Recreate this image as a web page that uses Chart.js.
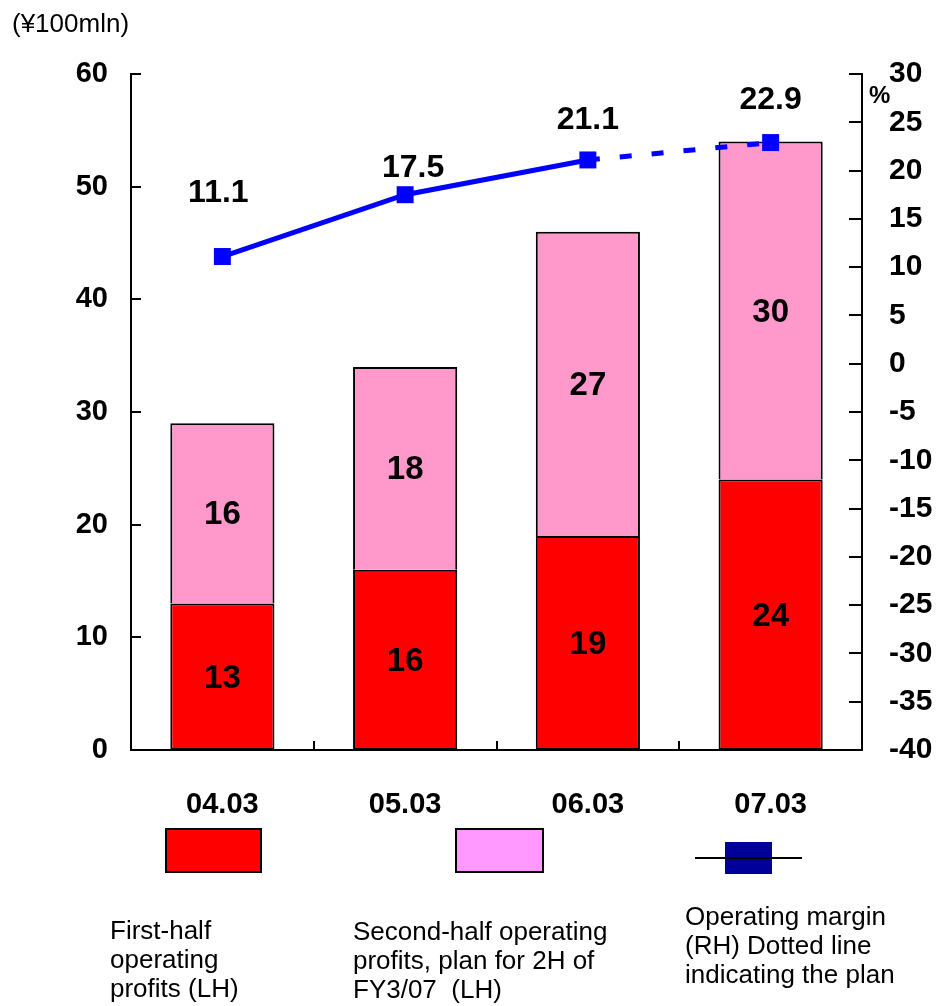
<!DOCTYPE html>
<html>
<head>
<meta charset="utf-8">
<script src="https://cdn.jsdelivr.net/npm/chart.js@4.4.1/dist/chart.umd.min.js"></script>
<style>
  body { margin: 0; background: #fff; font-family: "Liberation Sans", Arial, sans-serif; }
  #wrap { position: relative; width: 941px; height: 1006px; overflow: hidden; }
  .key { position: absolute; box-sizing: border-box; }
  .txt { position: absolute; font-size: 26px; line-height: 29px; color: #000; white-space: nowrap; }
</style>
</head>
<body>
<div id="wrap">
  <canvas id="chart" width="941" height="1006"></canvas>

  <div class="key" style="left:165px; top:828px; width:97px; height:45px; background:#ff0000; border:2px solid #000;"></div>
  <div class="key" style="left:455px; top:828px; width:89px; height:45px; background:#ff99ff; border:2px solid #000;"></div>
  <div class="key" style="left:725px; top:842px; width:47px; height:32px; background:#000099;"></div>
  <div class="key" style="left:695px; top:857px; width:107px; height:2px; background:#000;"></div>

  <div class="txt" style="left:110px; top:916px;">First-half<br>operating<br>profits (LH)</div>
  <div class="txt" style="left:353px; top:917px;">Second-half operating<br>profits, plan for 2H of<br>FY3/07&nbsp; (LH)</div>
  <div class="txt" style="left:685px; top:902px;">Operating margin<br>(RH) Dotted line<br>indicating the plan</div>
</div>

<script>
// fiscal years
const years = ["04.03", "05.03", "06.03", "07.03"];
// operating profits, ¥100mln
const firstHalf = [13, 16, 19, 24];
const secondHalf = [16, 18, 27, 30];
// operating margin, %
const margin = [11.1, 17.5, 21.1, 22.9];

// nudges for the margin labels (px)
const marginLabelDx = [-4, 8, 0, 0];
const marginLabelDy = [-63, -27, -40, -42];

const FONT = "'Liberation Sans', Arial, sans-serif";

// inward tick marks + value labels + unit texts
const extras = {
    id: "extras",
    afterDraw(chart) {
        const ctx = chart.ctx;
        const area = chart.chartArea;
        const y = chart.scales.y, y1 = chart.scales.y1, x = chart.scales.x;

        ctx.save();
        ctx.strokeStyle = "#000";
        ctx.lineWidth = 2;
        ctx.beginPath();
        y.ticks.forEach(t => {
            let p = Math.round(y.getPixelForValue(t.value));
            ctx.moveTo(area.left, p);
            ctx.lineTo(area.left + 10, p);
        });
        y1.ticks.forEach(t => {
            let p = Math.round(y1.getPixelForValue(t.value));
            ctx.moveTo(area.right - 13, p);
            ctx.lineTo(area.right, p);
        });
        for (let i = 0; i < years.length - 1; i++) {
            let p = Math.round((x.getPixelForValue(i) + x.getPixelForValue(i + 1)) / 2);
            ctx.moveTo(p, area.bottom);
            ctx.lineTo(p, area.bottom - 9);
        }
        ctx.stroke();

        // bar values, centred in each segment
        ctx.fillStyle = "#000";
        ctx.textAlign = "center";
        ctx.textBaseline = "middle";
        ctx.font = "bold 33px " + FONT;
        [0, 1].forEach(di => {
            chart.getDatasetMeta(di).data.forEach((bar, i) => {
                let v = chart.data.datasets[di].data[i];
                ctx.fillText(String(v), bar.x, (bar.y + bar.base) / 2 + 2);
            });
        });

        // margin values above the points
        ctx.font = "bold 32px " + FONT;
        chart.getDatasetMeta(2).data.forEach((pt, i) => {
            ctx.fillText(margin[i].toFixed(1), pt.x + marginLabelDx[i], pt.y + marginLabelDy[i]);
        });

        // units
        ctx.textAlign = "left";
        ctx.textBaseline = "alphabetic";
        ctx.font = "26px " + FONT;
        ctx.fillText("(¥100mln)", 12, 32);
        ctx.font = "bold 24px " + FONT;
        ctx.fillText("%", 869, 103);
        ctx.restore();
    }
};

new Chart(document.getElementById("chart"), {
    type: "bar",
    data: {
        labels: years,
        datasets: [{
            label: "First-half operating profits (LH)",
            data: firstHalf,
            backgroundColor: "#ff0000",
            borderColor: "#000",
            borderWidth: 2,
            borderSkipped: false,
            yAxisID: "y",
            order: 2
        }, {
            label: "Second-half operating profits, plan for 2H of FY3/07 (LH)",
            data: secondHalf,
            backgroundColor: "#ff99cc",
            borderColor: "#000",
            borderWidth: { top: 2, left: 2, right: 2, bottom: 0 },
            borderSkipped: false,
            yAxisID: "y",
            order: 2
        }, {
            type: "line",
            label: "Operating margin (RH)",
            data: margin,
            yAxisID: "y1",
            borderColor: "#0000ff",
            backgroundColor: "#0000ff",
            borderWidth: 5,
            borderCapStyle: "butt",
            pointStyle: "rect",
            pointRadius: 12,
            pointBorderWidth: 0,
            tension: 0,
            segment: {
                borderDash: c => c.p0DataIndex === 2 ? [12, 20] : undefined
            },
            order: 0
        }]
    },
    options: {
        responsive: false,
        animation: false,
        events: [],
        layout: { padding: { top: 74, left: 0, right: 0, bottom: 186 } },
        datasets: { bar: { categoryPercentage: 1, barPercentage: 0.57 } },
        plugins: { legend: { display: false }, tooltip: { enabled: false } },
        scales: {
            x: {
                stacked: true,
                grid: { display: false },
                border: { display: true, color: "#000", width: 2 },
                ticks: { color: "#000", padding: 30, font: { family: FONT, size: 29, weight: "bold" } },
                afterFit: s => { s.height = 70; }
            },
            y: {
                stacked: true,
                position: "left",
                min: 0,
                max: 60,
                grid: { display: false, drawTicks: false },
                border: { display: true, color: "#000", width: 2 },
                ticks: { stepSize: 10, color: "#000", padding: 23, font: { family: FONT, size: 29, weight: "bold" } },
                afterFit: s => { s.width = 131; }
            },
            y1: {
                position: "right",
                min: -40,
                max: 30,
                grid: { display: false, drawTicks: false },
                border: { display: true, color: "#000", width: 2 },
                ticks: { stepSize: 5, color: "#000", padding: 27, font: { family: FONT, size: 30, weight: "bold" } },
                afterFit: s => { s.width = 79; }
            }
        }
    },
    plugins: [extras]
});
</script>
</body>
</html>
